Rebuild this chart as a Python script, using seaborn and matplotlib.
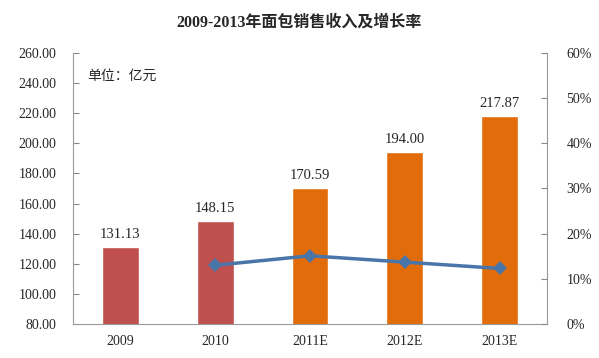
import numpy as np
import pandas as pd
import matplotlib
matplotlib.use('Agg')
import matplotlib.pyplot as plt
import seaborn as sns

years = ['2009', '2010', '2011E', '2012E', '2013E']
revenue = [131.13, 148.15, 170.59, 194.00, 217.87]
growth_years = ['2010', '2011E', '2012E', '2013E']
growth = [13.0, 15.1, 13.7, 12.3]  # %
bar_colors = ['#C0504D', '#C0504D', '#E36C0A', '#E36C0A', '#E36C0A']

sns.set_style('white')
plt.rcParams['font.family'] = ['Liberation Serif', 'Noto Sans CJK SC']

df = pd.DataFrame({'year': years, 'revenue': revenue})

fig = plt.figure(figsize=(5.99, 3.58), dpi=100)
ax = fig.add_axes([0.122, 0.095, 0.791, 0.757])
sns.barplot(data=df, x='year', y='revenue', hue='year', palette=bar_colors,
            width=0.39, legend=False, ax=ax, saturation=1)
ax.set_ylim(80, 260)
ax.set_yticks(np.arange(80, 261, 20))
ax.set_yticklabels([f'{v:.2f}' for v in np.arange(80, 261, 20)], fontsize=10)
ax.set_xlabel('')
ax.set_ylabel('')
ax.tick_params(axis='x', labelsize=10, length=0, pad=8)
ax.tick_params(axis='y', direction='in', length=4, color='#888888', pad=12)
for i, v in enumerate(revenue):
    ax.text(i, v + 4, f'{v:.2f}', ha='center', va='bottom', fontsize=10.5)

for side in ['left', 'bottom', 'right']:
    ax.spines[side].set_color('#999999')
ax.spines['top'].set_visible(False)

ax.text(0.03, 0.94, '单位：亿元', transform=ax.transAxes, fontsize=10,
        family=['Noto Sans CJK SC'], va='top')

ax2 = ax.twinx()
gdf = pd.DataFrame({'x': [years.index(y) for y in growth_years], 'g': growth})
sns.lineplot(data=gdf, x='x', y='g', ax=ax2, color='#4A75A8', linewidth=2.5,
             marker='D', markersize=7, markeredgewidth=0)
ax2.set_ylim(0, 60)
ax2.set_yticks(np.arange(0, 61, 10))
ax2.set_yticklabels([f'{v}%' for v in range(0, 61, 10)], fontsize=10)
ax2.set_ylabel('')
ax2.tick_params(axis='y', direction='in', length=4, color='#888888', pad=14)
for side in ax2.spines:
    ax2.spines[side].set_visible(False)
ax.set_xlim(-0.5, 4.5)

fig.suptitle('2009-2013年面包销售收入及增长率', y=0.96, fontsize=11.5,
             fontweight='bold')

plt.savefig('out.png', dpi=100)
